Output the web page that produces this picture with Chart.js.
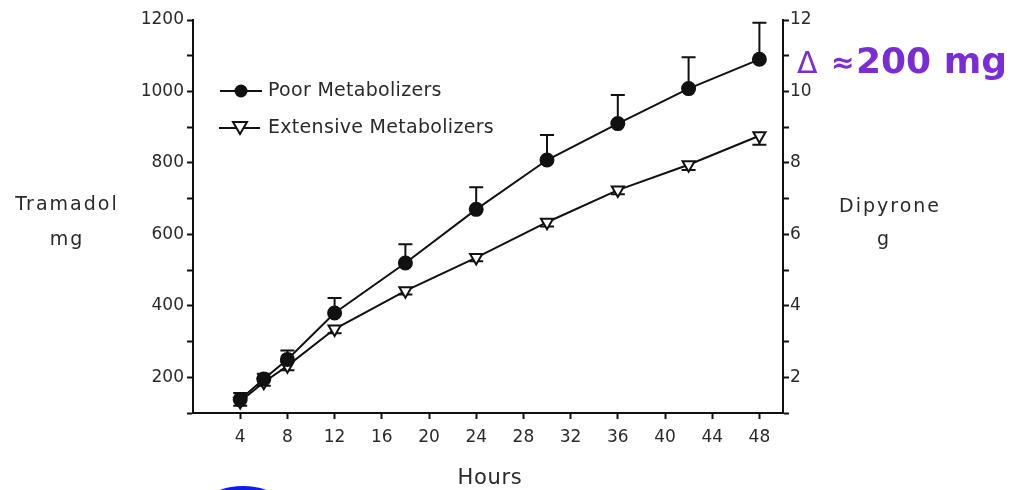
<!DOCTYPE html>
<html>
<head>
<meta charset="utf-8">
<script src="https://cdn.jsdelivr.net/npm/chart.js@4.4.1/dist/chart.umd.min.js"></script>
<style>
html, body { margin: 0; padding: 0; background: #fff; }
#wrap { width: 1013px; height: 490px; position: relative; }
</style>
</head>
<body>
<div id="wrap"><canvas id="chart" width="1013" height="490"></canvas></div>
<script>
// data
const hours = [4, 6, 8, 12, 18, 24, 30, 36, 42, 48]
const poorMg = [138, 195, 250, 380, 520, 670, 808, 910, 1008, 1090]
const poorErr = [18, 15, 25, 42, 52, 62, 70, 80, 88, 102]
const extensiveMg = [132, 186, 232, 335, 442, 535, 634, 724, 795, 876]
const extensiveErr = [12, 10, 12, 12, 10, 10, 12, 12, 15, 25]
const hourTicks = [4, 8, 12, 16, 20, 24, 28, 32, 36, 40, 44, 48]

const ink = "#111"
const textColor = "#2a2a2a"
const tickFont = { family: "DejaVu Sans", size: 17 }

// error bars (PM up, EM down), drawn under the markers
const errorBars = {
  id: "errorBars",
  beforeDatasetsDraw(chart) {
    const c = chart.ctx
    const x = chart.scales.x, y = chart.scales.y
    c.save()
    c.strokeStyle = ink
    c.lineWidth = 2
    const bar = (h, from, to) => {
      const px = x.getPixelForValue(h)
      const p1 = y.getPixelForValue(from), p2 = y.getPixelForValue(to)
      c.beginPath()
      c.moveTo(px, p1); c.lineTo(px, p2)
      c.moveTo(px - 7, p2); c.lineTo(px + 7, p2)
      c.stroke()
    }
    hours.forEach((h, i) => {
      bar(h, poorMg[i], poorMg[i] + poorErr[i])
      bar(h, extensiveMg[i], extensiveMg[i] - extensiveErr[i])
    })
    c.restore()
  }
}

// legend, axis titles and annotation
const extras = {
  id: "extras",
  afterDraw(chart) {
    const c = chart.ctx
    c.save()
    // legend
    c.strokeStyle = ink
    c.lineWidth = 2
    c.beginPath(); c.moveTo(220, 91); c.lineTo(262, 91); c.stroke()
    c.fillStyle = ink
    c.beginPath(); c.arc(241, 91, 6.5, 0, Math.PI * 2); c.fill()
    c.beginPath(); c.moveTo(219, 128); c.lineTo(260, 128); c.stroke()
    c.fillStyle = "#fff"
    c.beginPath()
    c.moveTo(233, 122); c.lineTo(247, 122); c.lineTo(240, 134); c.closePath()
    c.fill(); c.stroke()
    c.fillStyle = textColor
    c.font = "19px 'DejaVu Sans'"
    c.letterSpacing = "0.3px"
    c.textAlign = "left"
    c.textBaseline = "middle"
    c.fillText("Poor Metabolizers", 268, 91)
    c.fillText("Extensive Metabolizers", 268, 128)

    // axis titles
    c.textAlign = "center"
    c.letterSpacing = "2px"
    c.font = "19px 'DejaVu Sans'"
    c.fillText("Tramadol", 67, 205)
    c.fillText("mg", 67, 240)
    c.fillText("Dipyrone", 890, 207)
    c.fillText("g", 884, 240)
    c.letterSpacing = "0.7px"
    c.font = "21px 'DejaVu Sans'"
    c.fillText("Hours", 490, 479)

    // delta note
    c.letterSpacing = "0px"
    c.fillStyle = "#7a2cd6"
    c.textAlign = "left"
    c.textBaseline = "alphabetic"
    c.font = "30px 'DejaVu Sans'"
    c.fillText("\u0394", 797, 73)
    c.font = "bold 28px 'DejaVu Sans'"
    c.fillText("\u2248", 831, 72)
    c.font = "bold 36px 'DejaVu Sans'"
    c.fillText("200 mg", 856, 73)

    // blue circle peeking in at the bottom
    c.fillStyle = "#0a1ef0"
    c.beginPath()
    c.ellipse(243, 498, 31, 12, 0, 0, Math.PI * 2)
    c.fill()
    c.restore()
  }
}

new Chart(document.getElementById("chart"), {
  type: "line",
  data: {
    datasets: [
      {
        label: "Poor Metabolizers",
        data: hours.map((h, i) => ({ x: h, y: poorMg[i] })),
        borderColor: ink,
        borderWidth: 2,
        pointStyle: "circle",
        pointRadius: 6.5,
        pointBackgroundColor: ink,
        pointBorderColor: ink,
        tension: 0
      },
      {
        label: "Extensive Metabolizers",
        data: hours.map((h, i) => ({ x: h, y: extensiveMg[i] })),
        borderColor: ink,
        borderWidth: 2,
        pointStyle: "triangle",
        pointRotation: 180,
        pointRadius: 7,
        pointBackgroundColor: "#fff",
        pointBorderColor: ink,
        pointBorderWidth: 2,
        tension: 0
      }
    ]
  },
  options: {
    responsive: false,
    animation: false,
    layout: { padding: { top: 20, left: 0, right: 0, bottom: 0 } },
    plugins: {
      legend: { display: false },
      tooltip: { enabled: false }
    },
    scales: {
      x: {
        type: "linear",
        min: 0,
        max: 50,
        afterBuildTicks: s => { s.ticks = hourTicks.map(v => ({ value: v })) },
        afterFit: s => { s.height = 77 },
        ticks: { color: textColor, font: tickFont, padding: 8, maxRotation: 0 },
        grid: { drawOnChartArea: false, tickLength: 6, color: ink, tickWidth: 2 },
        border: { color: ink, width: 2 }
      },
      y: {
        type: "linear",
        position: "left",
        min: 100,
        max: 1200,
        afterFit: s => { s.width = 193 },
        ticks: {
          stepSize: 100,
          color: textColor,
          font: tickFont,
          padding: 3,
          callback: v => (v % 200 === 0 ? v : "")
        },
        grid: { drawOnChartArea: false, tickLength: 6, color: ink, tickWidth: 2 },
        border: { color: ink, width: 2 }
      },
      y1: {
        type: "linear",
        position: "right",
        min: 1,
        max: 12,
        afterFit: s => { s.width = 230 },
        ticks: {
          stepSize: 1,
          color: textColor,
          font: tickFont,
          padding: 1,
          callback: v => (v % 2 === 0 ? v : "")
        },
        grid: { drawOnChartArea: false, tickLength: 6, color: ink, tickWidth: 2 },
        border: { color: ink, width: 2 }
      }
    }
  },
  plugins: [errorBars, extras]
})
</script>
</body>
</html>
